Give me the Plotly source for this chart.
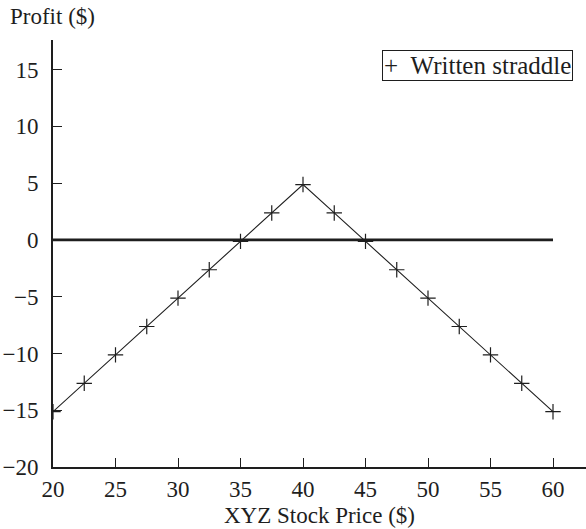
import plotly.graph_objects as go

stock_price = [20, 22.5, 25, 27.5, 30, 32.5, 35, 37.5, 40, 42.5, 45, 47.5, 50, 52.5, 55, 57.5, 60]
profit = [-15.13, -12.63, -10.13, -7.63, -5.13, -2.63, -0.13, 2.37, 4.87,
          2.37, -0.13, -2.63, -5.13, -7.63, -10.13, -12.63, -15.13]
zero_x = [20, 60]
zero_y = [0, 0]
x_ticks = [20, 25, 30, 35, 40, 45, 50, 55, 60]
y_ticks = [-20, -15, -10, -5, 0, 5, 10, 15]
y_tick_text = ["\u221220", "\u221215", "\u221210", "\u22125", "0", "5", "10", "15"]
series_name = "Written straddle"

FONT = "Liberation Serif"
INK = "#1e1e1e"
FS = 23

W, H = 586, 529
L, R, T, B = 53, 0, 40, 62
PW, PH = W - L - R, H - T - B


def px_x(page_x):
    return (page_x - L) / PW


def px_y(page_y):
    return 1 - (page_y - T) / PH


fig = go.Figure()
fig.add_trace(go.Scatter(x=zero_x, y=zero_y, mode="lines",
                         line=dict(color=INK, width=2.6), showlegend=False,
                         hoverinfo="skip"))
fig.add_trace(go.Scatter(x=stock_price, y=profit, mode="lines+markers",
                         line=dict(color=INK, width=1.1),
                         marker=dict(symbol="cross-thin-open", size=11, color=INK,
                                     line=dict(color=INK, width=1.2)),
                         showlegend=False, name=series_name))

fig.update_layout(
    width=W, height=H,
    margin=dict(l=L, r=R, t=T, b=B),
    paper_bgcolor="white", plot_bgcolor="white",
    font=dict(family=FONT, size=FS, color=INK),
    showlegend=False,
    xaxis=dict(range=[20, 20 + PW / 12.5], tickvals=x_ticks, ticks="inside", ticklen=9,
               tickwidth=1.3, tickcolor=INK, showgrid=False, zeroline=False,
               showline=True, linecolor=INK, linewidth=1.6, automargin=False,
               ticklabelstandoff=1,
               tickfont=dict(family=FONT, size=FS, color=INK)),
    yaxis=dict(range=[-20, 17.6], tickvals=y_ticks, ticktext=y_tick_text,
               ticks="inside", ticklen=9, tickwidth=1.3, tickcolor=INK,
               showgrid=False, zeroline=False, showline=True, automargin=False,
               ticklabelstandoff=8,
               linecolor=INK, linewidth=1.6,
               tickfont=dict(family=FONT, size=FS, color=INK)),
    annotations=[
        dict(text="Profit ($)", xref="paper", yref="paper",
             x=px_x(8), y=px_y(17), xanchor="left", yanchor="middle",
             showarrow=False, font=dict(family=FONT, size=23, color=INK)),
        dict(text="XYZ Stock Price ($)", xref="paper", yref="paper",
             x=0.5, y=px_y(515), xanchor="center", yanchor="middle",
             showarrow=False, font=dict(family=FONT, size=23, color=INK)),
        dict(text="+\u00a0\u00a0" + series_name, xref="paper", yref="paper",
             x=px_x(573), y=px_y(50), xanchor="right", yanchor="top",
             showarrow=False, bordercolor=INK, borderwidth=1, borderpad=1,
             bgcolor="white", font=dict(family=FONT, size=25, color=INK)),
    ],
)

fig.write_html("out.html", config={"displayModeBar": False},
               post_script="document.body.style.margin='0px';document.body.style.overflow='hidden';")
